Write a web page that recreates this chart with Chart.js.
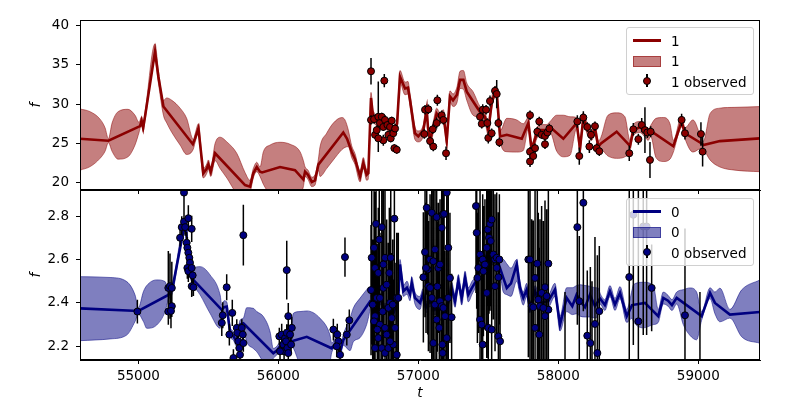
<!DOCTYPE html>
<html><head><meta charset="utf-8">
<script src="https://cdn.jsdelivr.net/npm/chart.js@4"></script>
<style>
html,body{margin:0;padding:0;background:#fff;width:800px;height:400px;overflow:hidden;font-family:"DejaVu Sans",sans-serif;}
#cTop{position:absolute;left:0;top:0;z-index:2;}
#cBot{position:absolute;left:0;top:170px;z-index:1;}
.leg{position:absolute;left:626px;width:126px;height:66px;border:1px solid #d0d0d0;border-radius:3px;background:rgba(255,255,255,0.8);z-index:5;}
.leg .lab{position:absolute;left:44px;font-size:13.5px;line-height:16px;color:#000;white-space:nowrap;}
.leg .ln{position:absolute;left:6px;width:28px;height:2.6px;}
.leg .pt{position:absolute;left:6px;width:26px;height:9px;}
.leg .eb{position:absolute;left:19px;width:1.5px;height:13px;background:#000;}
.leg .mk{position:absolute;left:16px;width:6px;height:6px;border:1px solid #000;border-radius:50%;}
</style></head>
<body>
<canvas id="cTop" width="800" height="206"></canvas>
<canvas id="cBot" width="800" height="240"></canvas>

<div class="leg" style="top:27px;">
  <div class="ln" style="top:11.4px;background:#8b0000;"></div><div class="lab" style="top:4.5px;">1</div>
  <div class="pt" style="top:27.5px;background:rgba(139,0,0,0.5);border:1px solid rgba(139,0,0,0.5);"></div><div class="lab" style="top:25px;">1</div>
  <div class="eb" style="top:46px;"></div><div class="mk" style="top:48.5px;background:#8b0000;"></div><div class="lab" style="top:45.5px;">1 observed</div>
</div>
<div class="leg" style="top:198px;">
  <div class="ln" style="top:11.4px;background:#000080;"></div><div class="lab" style="top:4.5px;">0</div>
  <div class="pt" style="top:27.5px;background:rgba(0,0,128,0.5);border:1px solid rgba(0,0,128,0.5);"></div><div class="lab" style="top:25px;">0</div>
  <div class="eb" style="top:46px;"></div><div class="mk" style="top:48.5px;background:#000080;"></div><div class="lab" style="top:45.5px;">0 observed</div>
</div>

<script>
// ---------- axes / ticks ----------
const xMin = 54583, xMax = 59441;
const xTicks = [55000, 56000, 57000, 58000, 59000];
const yTicksTop = [20, 25, 30, 35, 40];
const yMinTop = 19.07, yMaxTop = 40.73;
const yTicksBot = [2.2, 2.4, 2.6, 2.8];
const yMinBot = 2.137, yMaxBot = 2.92;

// ---------- series "1" (top) model mean ----------
const meanT1 = [54583,54786,55012,55023,55034,55048,55119,55143,55179,55389,55405,55429,55464,55489,55500,55517,55548,55762,55798,55821,55846,55869,55884,56012,56119,56179,56191,56212,56239,56262,56286,56464,56491,56524,56548,56584,56607,56631,56643,56662,56676,56762,56819,56848,56869,56905,56926,56941,56976,57000,57036,57060,57069,57084,57107,57131,57155,57179,57203,57226,57248,57276,57298,57322,57346,57441,57476,57500,57524,57548,57562,57584,57632,57679,57739,57786,57810,57846,57869,57917,57941,58036,58131,58155,58179,58212,58239,58262,58286,58305,58417,58512,58536,58584,58619,58643,58660,58822,58881,58905,59024,59036,59155,59441];
const mean1 = [25.6,25.35,27.2,27.9,27.0,28.5,36.7,33.5,29.7,24.9,25.65,26.9,21.2,21.8,22.3,21.4,23.75,19.7,19.5,21.2,22.0,21.4,21.3,22.0,21.6,20.4,21.4,21.0,20.1,20.3,22.3,26.4,25.6,23.95,23.0,20.8,22.5,21.0,21.2,30.8,28.5,27.5,26.5,27.5,33.5,32.0,32.1,30.5,26.3,25.9,26.7,29.3,27.0,25.4,27.1,28.8,28.2,28.6,25.4,31.0,30.5,31.2,33.1,33.1,31.6,29.0,28.4,26.7,30.1,31.6,31.0,25.9,26.1,25.9,25.6,27.6,24.2,26.3,26.7,26.7,27.1,25.6,27.6,24.4,28.2,26.6,26.1,26.9,24.6,25.0,26.5,24.7,26.7,27.1,26.5,26.1,26.6,24.65,27.8,26.3,25.0,24.8,25.3,25.65];

// ---------- series "1" band ----------
const bandT1 = [54583,54655,54726,54762,54786,54812,54855,54926,54976,55005,55023,55034,55048,55119,55143,55179,55203,55239,55298,55345,55393,55405,55429,55464,55489,55500,55517,55548,55584,55632,55703,55762,55798,55821,55846,55869,55893,55941,56012,56084,56155,56179,56191,56212,56239,56262,56286,56298,56345,56393,56453,56476,56500,56524,56548,56584,56607,56631,56643,56662,56676,56762,56819,56848,56869,56905,56926,56941,56976,57000,57036,57060,57069,57084,57107,57131,57155,57179,57203,57226,57248,57276,57298,57322,57346,57391,57441,57476,57500,57524,57548,57562,57584,57632,57703,57750,57786,57810,57846,57869,57917,57941,57989,58036,58084,58131,58155,58179,58212,58239,58262,58286,58305,58355,58417,58476,58512,58536,58584,58619,58643,58660,58698,58750,58798,58822,58881,58905,58962,59024,59036,59084,59155,59262,59441];
const bandHi1 = [29.4,29.05,28.1,27.0,25.6,27.6,29.05,29.35,28.6,27.7,28.4,27.5,29.0,37.7,34.3,30.5,30.8,30.5,29.5,28.2,25.5,26.2,27.5,21.8,22.4,22.9,22.0,25.0,25.8,25.2,23.75,21.3,20.3,21.8,22.6,22.0,23.95,24.8,25.15,24.9,23.95,22.8,22.0,21.6,20.7,21.0,23.0,24.6,26.3,27.6,28.3,28.0,26.7,24.7,23.7,21.5,23.2,21.7,21.9,31.5,29.2,28.1,27.1,28.2,34.3,32.8,32.9,31.3,27.1,26.6,27.4,30.0,27.7,26.1,27.8,29.5,28.9,29.3,26.1,31.7,31.3,32.2,34.2,34.3,32.7,31.6,29.7,29.1,27.4,30.8,32.3,31.7,26.6,28.2,28.0,27.5,28.3,24.9,27.0,27.4,27.4,27.8,28.6,28.6,28.4,28.3,25.1,28.9,27.3,26.8,27.6,25.3,25.8,28.6,28.9,28.4,25.4,27.4,27.8,27.2,26.8,27.3,28.2,28.3,27.5,25.4,28.5,27.0,28.0,25.6,25.3,28.8,29.5,29.6,29.7];
const bandLo1 = [21.6,22.05,23.1,24.0,25.1,24.0,23.0,23.3,24.8,26.4,27.4,26.5,28.0,35.6,32.7,28.6,27.6,26.4,24.8,23.6,24.3,25.1,26.3,20.6,21.2,21.7,20.8,22.8,21.8,20.6,18.6,17.8,18.7,20.6,21.4,20.8,19.8,18.5,17.8,17.9,18.6,19.5,20.8,20.4,19.5,19.7,21.6,20.8,21.8,22.9,24.2,24.5,24.6,23.2,22.3,20.1,21.8,20.3,20.5,30.1,27.8,26.9,25.9,26.8,32.7,31.2,31.3,29.7,25.5,25.2,26.0,28.6,26.3,24.7,26.4,28.1,27.5,27.9,24.7,30.3,29.7,30.2,32.0,31.9,30.5,28.6,28.3,27.7,26.0,29.4,30.9,30.3,25.2,23.95,23.9,24.1,26.9,23.5,25.6,26.0,26.0,26.4,24.0,23.3,23.5,26.9,23.7,27.5,25.9,25.4,26.2,23.9,24.2,23.4,23.1,23.3,24.0,26.0,26.4,25.8,25.4,25.9,23.2,22.7,23.0,23.9,27.1,25.6,23.9,24.4,24.3,22.9,22.0,21.6,21.4];

// ---------- series "1" observations ----------
const obsT1 = [56662,56662,56684,56691,56703,56714,56726,56739,56750,56762,56750,56714,56757,56779,56786,56798,56810,56803,56821,56834,56829,56846,57043,57048,57072,57084,57103,57107,57131,57136,57167,57179,57198,57460,57453,57484,57493,57500,57512,57524,57548,57560,57572,57579,57441,57798,57798,57798,57821,57834,57850,57864,57881,57905,57905,57922,57936,58136,58150,58179,58207,58222,58234,58262,58274,58293,58507,58536,58572,58596,58619,58636,58660,58655,58881,58905,59019,59031];
const obsF1 = [34.2,28.0,28.1,26.1,26.7,28.4,27.6,28.4,27.1,28.0,25.4,25.65,33.0,27.35,26.1,27.1,27.9,25.65,26.3,26.9,24.4,24.2,26.2,29.3,29.35,25.3,26.8,24.6,27.6,30.5,28.6,28.0,23.75,29.3,27.5,29.3,27.6,25.7,30.4,26.3,31.7,31.3,27.6,25.15,28.4,28.6,23.95,22.7,23.4,24.4,26.5,27.8,26.1,25.95,24.9,26.4,26.9,27.8,23.4,28.3,27.1,24.6,26.1,27.2,24.4,24.0,23.75,26.8,25.55,27.35,26.7,26.4,26.5,22.9,28.0,26.3,26.2,23.95];
const obsE1 = [1.7,0.6,0.6,0.5,0.6,4.5,0.6,0.5,0.5,0.6,0.7,0.6,0.85,0.5,0.5,0.5,0.5,0.5,0.5,0.6,0.5,0.5,0.6,0.6,0.6,0.6,0.6,0.6,0.7,0.7,0.6,0.6,0.85,0.7,0.6,0.6,0.6,0.7,0.7,0.6,0.6,1.8,0.6,0.6,0.5,0.6,0.6,0.7,0.6,0.6,0.6,0.6,0.5,0.5,0.6,0.5,0.6,0.8,1.1,0.8,0.6,0.8,0.7,0.6,0.6,0.6,1.0,0.8,0.7,0.9,2.9,0.7,0.7,2.3,0.8,0.8,1.5,1.9];

// ---------- series "0" (bottom) model mean ----------
const meanT0 = [54583,55000,55214,55241,55321,55341,55357,55381,55596,55612,55631,55655,55676,55703,55726,55750,55964,55989,56012,56084,56203,56381,56417,56441,56464,56655,56698,56726,56762,56798,56826,56857,56869,56893,56919,56941,56953,56976,57012,57033,57055,57084,57119,57155,57191,57212,57238,57262,57286,57310,57334,57357,57384,57412,57441,57469,57500,57527,57555,57584,57607,57632,57662,57703,57726,57750,57774,57798,57834,57869,57929,57976,58012,58060,58100,58131,58155,58191,58226,58262,58298,58333,58369,58405,58441,58489,58527,58619,58714,58750,58784,58812,58846,59024,59084,59119,59226,59441];
const mean0 = [2.375,2.363,2.437,2.46,2.729,2.74,2.583,2.514,2.368,2.38,2.383,2.267,2.25,2.221,2.30,2.306,2.168,2.18,2.20,2.221,2.244,2.191,2.221,2.175,2.229,2.406,2.39,2.42,2.37,2.40,2.36,2.423,2.577,2.454,2.47,2.44,2.492,2.423,2.40,2.44,2.38,2.41,2.37,2.40,2.36,2.40,2.469,2.408,2.50,2.423,2.515,2.438,2.47,2.50,2.56,2.59,2.638,2.60,2.61,2.56,2.515,2.469,2.49,2.577,2.47,2.423,2.46,2.377,2.454,2.40,2.408,2.461,2.30,2.423,2.385,2.438,2.41,2.38,2.438,2.385,2.42,2.39,2.454,2.392,2.446,2.339,2.39,2.40,2.339,2.423,2.41,2.39,2.423,2.339,2.446,2.40,2.346,2.358];

// ---------- series "0" band ----------
const bandT0 = [54583,54798,54917,54976,55000,55036,55060,55131,55191,55214,55241,55321,55341,55357,55381,55393,55441,55512,55584,55596,55612,55631,55655,55676,55703,55726,55750,55774,55821,55846,55893,55941,55964,55989,56012,56084,56107,56155,56203,56298,56369,56381,56417,56441,56464,56512,56536,56584,56631,56643,56662,56698,56726,56762,56798,56826,56857,56869,56893,56919,56941,56953,56976,57012,57033,57055,57084,57119,57155,57191,57212,57238,57262,57286,57310,57334,57357,57384,57412,57441,57469,57500,57527,57555,57584,57607,57632,57662,57703,57726,57750,57774,57798,57834,57869,57929,57976,58012,58060,58100,58131,58155,58191,58226,58262,58286,58298,58333,58369,58405,58441,58489,58527,58536,58607,58679,58714,58750,58784,58812,58846,58893,58941,58988,59024,59084,59119,59155,59226,59310,59441];
const bandHi0 = [2.521,2.517,2.498,2.437,2.378,2.452,2.48,2.506,2.498,2.46,2.48,2.75,2.76,2.60,2.535,2.56,2.567,2.529,2.437,2.39,2.41,2.405,2.29,2.27,2.24,2.32,2.33,2.378,2.375,2.36,2.337,2.267,2.19,2.20,2.22,2.245,2.352,2.36,2.363,2.329,2.252,2.215,2.245,2.20,2.255,2.33,2.377,2.422,2.461,2.47,2.43,2.415,2.445,2.395,2.425,2.385,2.45,2.60,2.48,2.50,2.47,2.52,2.45,2.43,2.465,2.405,2.435,2.395,2.425,2.385,2.425,2.495,2.44,2.53,2.455,2.545,2.47,2.50,2.525,2.585,2.615,2.665,2.625,2.635,2.59,2.60,2.58,2.56,2.60,2.50,2.45,2.49,2.40,2.48,2.425,2.435,2.49,2.34,2.47,2.47,2.48,2.484,2.48,2.477,2.47,2.469,2.445,2.415,2.48,2.42,2.475,2.37,2.46,2.484,2.495,2.48,2.37,2.45,2.435,2.415,2.45,2.461,2.469,2.45,2.36,2.47,2.45,2.468,2.37,2.46,2.506];
const bandLo0 = [2.226,2.234,2.252,2.314,2.348,2.314,2.283,2.298,2.36,2.415,2.44,2.71,2.72,2.565,2.495,2.48,2.437,2.352,2.283,2.35,2.355,2.36,2.245,2.23,2.20,2.28,2.285,2.221,2.19,2.175,2.13,2.12,2.145,2.16,2.18,2.20,2.191,2.12,2.11,2.10,2.13,2.17,2.20,2.155,2.205,2.18,2.221,2.24,2.30,2.33,2.38,2.365,2.395,2.345,2.375,2.335,2.40,2.555,2.43,2.44,2.41,2.465,2.395,2.37,2.415,2.355,2.385,2.345,2.375,2.335,2.375,2.445,2.38,2.47,2.39,2.485,2.405,2.44,2.475,2.535,2.565,2.61,2.575,2.585,2.535,2.45,2.438,2.43,2.50,2.44,2.39,2.43,2.355,2.43,2.375,2.38,2.43,2.27,2.36,2.346,2.35,2.339,2.335,2.335,2.33,2.35,2.395,2.365,2.43,2.365,2.42,2.31,2.33,2.315,2.285,2.30,2.31,2.395,2.385,2.365,2.395,2.30,2.25,2.23,2.32,2.42,2.35,2.313,2.33,2.244,2.214];

// ---------- series "0" observations ----------
const obsT0 = [54993,55214,55226,55239,55214,55239,55233,55298,55310,55326,55326,55334,55357,55381,55345,55350,55357,55364,55369,55350,55357,55381,55388,55381,55393,55631,55603,55596,55671,55650,55679,55703,55707,55714,55721,55726,55739,55746,55750,55750,56060,56071,56096,56007,56024,56036,56041,56048,56055,56060,56064,56071,56084,56091,56012,56393,56421,56429,56441,56417,56507,56489,56476,
56662,56667,56684,56698,56739,56721,56762,56803,56829,56691,56714,56793,56691,56703,56726,56750,56774,56798,56846,56684,56714,56739,56762,56786,56821,56846,56691,56726,56762,56786,56810,56834,56857,56674,56745,56774,56817,56707,56798,56750,
57036,57048,57060,57067,57084,57096,57107,57119,57131,57143,57155,57167,57174,57184,57203,57214,57226,57238,57072,57096,57119,57136,57155,57167,57179,57191,57203,57172,57174,57107,57214,57055,57084,57131,57150,
57412,57417,57422,57429,57441,57460,57476,57489,57496,57505,57512,57524,57536,57548,57560,57572,57579,57441,57453,57460,57489,57500,57524,57548,57572,57584,57465,57517,57560,57786,
57798,57850,57929,57834,57905,57881,57917,57857,57810,57869,57905,57834,57864,57929,57821,57893,
58136,58179,58150,58207,58229,58262,58279,58293,58507,58572,58667,58905,58048,58241,58536,58607,58631,59012];
const obsF0 = [2.36,2.469,2.477,2.469,2.36,2.385,2.363,2.70,2.749,2.774,2.908,2.749,2.79,2.741,2.677,2.654,2.631,2.608,2.585,2.561,2.546,2.561,2.527,2.477,2.472,2.472,2.343,2.308,2.354,2.254,2.146,2.285,2.262,2.223,2.192,2.161,2.285,2.254,2.215,2.712,2.551,2.339,2.285,2.246,2.254,2.208,2.177,2.238,2.223,2.262,2.192,2.169,2.254,2.208,2.177,2.277,2.254,2.223,2.161,2.20,2.32,2.254,2.611,
2.459,2.608,2.654,2.764,2.749,2.692,2.608,2.608,2.788,2.561,2.538,2.538,2.339,2.423,2.423,2.469,2.484,2.40,2.423,2.315,2.238,2.192,2.169,2.192,2.208,2.161,2.192,2.30,2.285,2.377,2.33,2.285,2.423,2.392,2.36,2.254,2.392,2.277,2.223,2.577,
2.518,2.634,2.838,2.554,2.60,2.815,2.592,2.646,2.795,2.561,2.577,2.746,2.807,2.81,2.908,2.654,2.515,2.334,2.477,2.423,2.392,2.475,2.408,2.385,2.377,2.339,2.238,2.208,2.169,2.215,2.423,2.561,2.469,2.323,2.285,
2.846,2.723,2.515,2.561,2.623,2.60,2.577,2.654,2.738,2.70,2.764,2.784,2.623,2.60,2.608,2.518,2.60,2.323,2.30,2.208,2.446,2.285,2.277,2.477,2.246,2.223,2.546,2.685,2.561,2.60,
2.60,2.581,2.581,2.515,2.472,2.446,2.431,2.415,2.385,2.385,2.339,2.285,2.254,2.369,2.38,2.377,
2.749,2.861,2.408,2.249,2.215,2.303,2.169,2.362,2.519,2.315,2.469,2.343,2.0,1.9,2.806,2.752,2.752,1.9];
const obsE0 = [0.055,0.17,0.15,0.12,0.05,0.05,0.08,0.04,0.05,0.04,0.13,0.04,0.06,0.06,0.05,0.05,0.05,0.04,0.06,0.05,0.05,0.05,0.04,0.05,0.04,0.06,0.06,0.06,0.06,0.05,0.04,0.04,0.04,0.04,0.04,0.04,0.04,0.04,0.04,0.14,0.135,0.06,0.05,0.04,0.05,0.04,0.04,0.04,0.05,0.04,0.04,0.04,0.04,0.04,0.04,0.05,0.05,0.05,0.04,0.05,0.05,0.05,0.09,
0.3,0.4,0.4,0.5,0.5,0.4,0.35,0.4,0.4,0.35,0.3,0.3,0.3,0.25,0.3,0.3,0.3,0.3,0.3,0.35,0.3,0.4,0.3,0.35,0.3,0.4,0.3,0.3,0.35,0.3,0.3,0.3,0.3,0.3,0.35,0.3,0.3,0.3,0.3,0.35,
0.3,0.3,0.4,0.3,0.3,0.35,0.35,0.3,0.4,0.3,0.3,0.4,0.35,0.4,0.4,0.3,0.3,0.2,0.3,0.3,0.3,0.3,0.3,0.3,0.3,0.3,0.3,0.3,0.35,0.3,0.3,0.3,0.3,0.3,0.3,
0.4,0.35,0.3,0.3,0.3,0.3,0.3,0.3,0.35,0.35,0.4,0.4,0.3,0.3,0.3,0.3,0.3,0.3,0.3,0.3,0.3,0.3,0.3,0.3,0.3,0.3,0.3,0.3,0.3,0.45,
0.5,0.5,0.45,0.4,0.4,0.4,0.4,0.4,0.4,0.4,0.4,0.4,0.4,0.35,0.4,0.4,
0.45,0.5,0.3,0.3,0.35,0.4,0.45,0.3,0.55,0.6,0.2,0.4,0.45,0.6,0.6,0.5,0.5,0.55];

// ---------- helpers (build library datasets from the arrays) ----------
function pts(ts, fs) { return ts.map((t, i) => ({x: t, y: fs[i]})); }
function errSegs(ts, fs, es) {
  const out = [];
  ts.forEach((t, i) => { out.push({x: t, y: fs[i] - es[i]}, {x: t, y: fs[i] + es[i]}, {x: t, y: null}); });
  return out;
}
Chart.defaults.font.family = "'DejaVu Sans', sans-serif";
Chart.defaults.font.size = 13.5;
Chart.defaults.color = '#000';

const framePlugin = {
  id: 'frame',
  afterDraw(chart) {
    const {ctx, chartArea: a} = chart;
    ctx.save();
    ctx.strokeStyle = '#000';
    ctx.lineWidth = 1;
    ctx.strokeRect(a.left + 0.5, a.top + 0.5, a.right - a.left - 1, a.bottom - a.top - 1);
    ctx.restore();
  }
};

function makeDatasets(obsT, obsF, obsE, meanT, mean, bT, bHi, bLo, rgb) {
  const solid = 'rgb(' + rgb + ')';
  const half = 'rgba(' + rgb + ',0.5)';
  return [
    {type: 'scatter', data: pts(obsT, obsF), pointRadius: 3.5, pointBackgroundColor: solid, pointBorderColor: '#000', pointBorderWidth: 1, clip: 0},
    {type: 'line', data: errSegs(obsT, obsF, obsE), borderColor: '#000', borderWidth: 1.5, pointRadius: 0, spanGaps: false, fill: false, clip: 0},
    {type: 'line', data: pts(meanT, mean), borderColor: solid, borderWidth: 2.6, pointRadius: 0, tension: 0, fill: false, clip: 0},
    {type: 'line', data: pts(bT, bHi), borderColor: half, borderWidth: 1, backgroundColor: half, pointRadius: 0, fill: '+1', cubicInterpolationMode: 'monotone', clip: 0},
    {type: 'line', data: pts(bT, bLo), borderColor: half, borderWidth: 1, pointRadius: 0, fill: false, cubicInterpolationMode: 'monotone', clip: 0}
  ];
}

function yAxis(min, max, ticks, fmt) {
  return {
    type: 'linear', position: 'left', min: min, max: max,
    afterBuildTicks: s => { s.ticks = ticks.map(v => ({value: v})); },
    afterFit: s => { s.width = 80; },
    ticks: {padding: 7, callback: fmt},
    grid: {drawOnChartArea: false, drawTicks: true, tickLength: 4, color: '#000'},
    border: {display: true, color: '#000'},
    title: {display: true, text: 'f', font: {style: 'italic', size: 13.5}, padding: {top: 28, bottom: 0}}
  };
}

const common = {
  responsive: false, animation: false, events: [],
  plugins: {legend: {display: false}, tooltip: {enabled: false}}
};

new Chart(document.getElementById('cTop'), {
  type: 'line',
  data: {datasets: makeDatasets(obsT1, obsF1, obsE1, meanT1, mean1, bandT1, bandHi1, bandLo1, '139,0,0')},
  options: Object.assign({}, common, {
    layout: {padding: {top: 20, right: 40, left: 0, bottom: 0}},
    scales: {
      x: {type: 'linear', min: xMin, max: xMax,
          afterBuildTicks: s => { s.ticks = xTicks.map(v => ({value: v})); },
          afterFit: s => { s.height = 16; },
          ticks: {display: false},
          grid: {drawOnChartArea: false, drawTicks: true, tickLength: 4, color: '#000'},
          border: {display: true, color: '#000'}},
      y: yAxis(yMinTop, yMaxTop, yTicksTop, v => String(v))
    }
  }),
  plugins: [framePlugin]
});

new Chart(document.getElementById('cBot'), {
  type: 'line',
  data: {datasets: makeDatasets(obsT0, obsF0, obsE0, meanT0, mean0, bandT0, bandHi0, bandLo0, '0,0,128')},
  options: Object.assign({}, common, {
    layout: {padding: {top: 20, right: 40, left: 0, bottom: 0}},
    scales: {
      x: {type: 'linear', min: xMin, max: xMax,
          afterBuildTicks: s => { s.ticks = xTicks.map(v => ({value: v})); },
          afterFit: s => { s.height = 50; },
          ticks: {padding: 4, callback: v => String(v), maxRotation: 0},
          grid: {drawOnChartArea: false, drawTicks: true, tickLength: 4, color: '#000'},
          border: {display: true, color: '#000'},
          title: {display: true, text: 't', font: {style: 'italic', size: 13.5}, padding: {top: 0, bottom: 8}}},
      y: yAxis(yMinBot, yMaxBot, yTicksBot, v => v.toFixed(1))
    }
  }),
  plugins: [framePlugin]
});
</script>
</body></html>
